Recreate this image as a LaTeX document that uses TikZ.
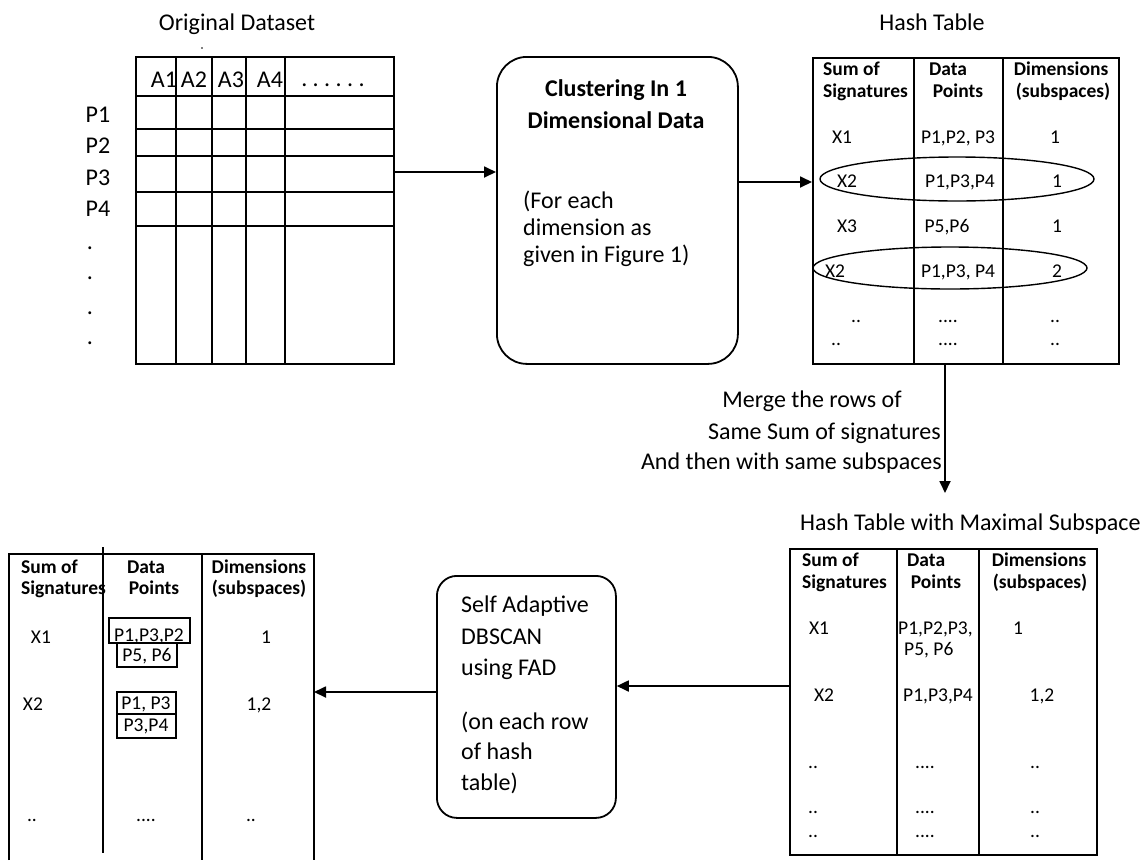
\documentclass[tikz,border=0pt]{standalone}
\usepackage{fontspec}
\setmainfont{Carlito}
\usetikzlibrary{arrows.meta}
\begin{document}
\begin{tikzpicture}[x=1pt,y=-1pt,
  tbl/.style={draw, line width=1.8pt, inner sep=0pt, anchor=north west},
  rule/.style={line width=1.8pt},
  fineline/.style={line width=1.4pt},
  big/.style={font=\fontsize{24}{27}\selectfont, inner sep=0pt, anchor=base},
  bigb/.style={font=\bfseries\fontsize{24}{27}\selectfont, inner sep=0pt, anchor=base},
  cell/.style={font=\fontsize{19.5}{22}\selectfont, inner sep=0pt, anchor=base},
  head/.style={font=\bfseries\fontsize{19.5}{22}\selectfont, inner sep=0pt, anchor=base},
  flow/.style={line width=1.8pt, -{Triangle[length=12pt,width=11pt]}},
]
\useasboundingbox (0,0) rectangle (1146,860);

% ---------- original dataset ----------
\node[big] (dstitle) at (237,30) {Original Dataset};
\fill (202,48) circle (0.9pt);
\node[tbl, minimum width=258pt, minimum height=307pt] (ds) at (135,56) {};
\foreach \x in {176,212,246,285} \draw[rule] (\x,56) -- (\x,363);
\foreach \y in {96,129,156,192,226} \draw[rule] (135,\y) -- (393,\y);
\node[big] (a1) at (164,87) {A1};
\node[big] (a2) at (194,87) {A2};
\node[big] (a3) at (231,87) {A3};
\node[big] (a4) at (270,87) {A4};
\node[big] (adots) at (333,86) {.\ .\ .\ .\ .\ .};
\node[big] (p1) at (98,122) {P1};
\node[big] (p2) at (98,153) {P2};
\node[big] (p3) at (98,185) {P3};
\node[big] (p4) at (98,216) {P4};
\node[big] (pd1) at (90,249) {.};
\node[big] (pd2) at (90,279) {.};
\node[big] (pd3) at (90,314) {.};
\node[big] (pd4) at (90,344) {.};

% ---------- clustering step ----------
\node[tbl, rounded corners=30pt, minimum width=241pt, minimum height=307pt] (clu) at (496,56) {};
\node[bigb] (c1) at (616,96) {Clustering In 1};
\node[bigb] (c2) at (616,128) {Dimensional Data};
\node[big, anchor=base west] (c3) at (523,208) {(For each};
\node[big, anchor=base west] (c4) at (523,235) {dimension as};
\node[big, anchor=base west] (c5) at (523,262) {given in Figure 1)};

% ---------- hash table ----------
\node[big] (httitle) at (932,30) {Hash Table};
\node[tbl, minimum width=306pt, minimum height=306pt] (ht) at (812,57) {};
\foreach \x in {914,1003} \draw[rule] (\x,57) -- (\x,363);
\node[head, anchor=base west] (h1) at (823,75) {Sum of};
\node[head, anchor=base west] (h2) at (823,97) {Signatures};
\node[head] (h3) at (948,75) {Data};
\node[head] (h4) at (958,97) {Points};
\node[head] (h5) at (1061,75) {Dimensions};
\node[head] (h6) at (1063,97) {(subspaces)};
\node[cell] (r1a) at (842,143) {X1};
\node[cell] (r1b) at (958,143) {P1,P2, P3};
\node[cell] (r1c) at (1055,143) {1};
\node[cell] (r2a) at (847,187) {X2};
\node[cell] (r2b) at (960,187) {P1,P3,P4};
\node[cell] (r2c) at (1057,187) {1};
\node[cell] (r3a) at (847,232) {X3};
\node[cell] (r3b) at (947,232) {P5,P6};
\node[cell] (r3c) at (1057,232) {1};
\node[cell] (r4a) at (835,277) {X2};
\node[cell] (r4b) at (958,277) {P1,P3, P4};
\node[cell] (r4c) at (1057,277) {2};
\node[cell] (r5a) at (856,322) {..};
\node[cell] (r5b) at (948,322) {....};
\node[cell] (r5c) at (1055,322) {..};
\node[cell] (r6a) at (836,345) {..};
\node[cell] (r6b) at (948,345) {....};
\node[cell] (r6c) at (1055,345) {..};
\draw[fineline] (957,179) ellipse [x radius=137pt, y radius=22pt];
\draw[fineline] (950,268) ellipse [x radius=137pt, y radius=21pt];

% ---------- merge step ----------
\coordinate (mergeend) at (945,493);
\node[big] (m1) at (812,407) {Merge the rows of};
\node[big, anchor=base east] (m2) at (941,439) {Same Sum of signatures};
\node[big, anchor=base east] (m3) at (942,469) {And then with same subspaces};

% ---------- hash table with maximal subspace ----------
\node[big, anchor=base west] (mttitle) at (800,530) {Hash Table with Maximal Subspace};
\node[tbl, minimum width=307pt, minimum height=306pt] (mt) at (789,548) {};
\foreach \x in {897,979} \draw[rule] (\x,548) -- (\x,854);
\node[head, anchor=base west] (g1) at (802,566) {Sum of};
\node[head, anchor=base west] (g2) at (802,588) {Signatures};
\node[head, anchor=base west] (g3) at (907,566) {Data};
\node[head] (g4) at (936,588) {Points};
\node[head] (g5) at (1039,566) {Dimensions};
\node[head] (g6) at (1040,588) {(subspaces)};
\node[cell] (s1a) at (819,634) {X1};
\node[cell, anchor=base west] (s1b) at (898,634) {P1,P2,P3,};
\node[cell, anchor=base west] (s1d) at (904,655) {P5, P6};
\node[cell] (s1c) at (1018,634) {1};
\node[cell] (s2a) at (824,701) {X2};
\node[cell] (s2b) at (938,701) {P1,P3,P4};
\node[cell] (s2c) at (1042,701) {1,2};
\node[cell] (s3a) at (813,768) {..};
\node[cell] (s3b) at (925,768) {....};
\node[cell] (s3c) at (1035,768) {..};
\node[cell] (s4a) at (813,813) {..};
\node[cell] (s4b) at (925,813) {....};
\node[cell] (s4c) at (1035,813) {..};
\node[cell] (s5a) at (813,837) {..};
\node[cell] (s5b) at (925,837) {....};
\node[cell] (s5c) at (1035,837) {..};

% ---------- DBSCAN step ----------
\node[tbl, rounded corners=20pt, minimum width=179pt, minimum height=242pt] (db) at (436,575) {};
\node[big, anchor=base west] (d1) at (461,612) {Self Adaptive};
\node[big, anchor=base west] (d2) at (461,644) {DBSCAN};
\node[big, anchor=base west] (d3) at (461,675) {using FAD};
\node[big, anchor=base west] (d4) at (461,729) {(on each row};
\node[big, anchor=base west] (d5) at (461,759) {of hash};
\node[big, anchor=base west] (d6) at (461,790) {table)};

% ---------- resulting clusters ----------
\draw[rule] (9,860) -- (9,554) -- (314,554) -- (314,860);
\draw[rule] (103,547) -- (103,853);
\draw[rule] (202,554) -- (202,860);
\coordinate (rt) at (314,692);
\node[head, anchor=base west] (k1) at (21,573) {Sum of};
\node[head, anchor=base west] (k2) at (21,594) {Signatures};
\node[head] (k3) at (146,573) {Data};
\node[head] (k4) at (154,594) {Points};
\node[head] (k5) at (259,573) {Dimensions};
\node[head] (k6) at (259,594) {(subspaces)};
\node[cell] (t1a) at (41,643) {X1};
\node[draw, fineline, inner sep=0pt, minimum width=81pt, minimum height=25pt] (bx1) at (149.5,630.5) {};
\node[draw, fineline, inner sep=0pt, minimum width=60pt, minimum height=24pt] (bx2) at (147,655) {};
\node[cell] (t1b) at (149,641) {P1,P3,P2};
\node[cell] (t1d) at (147,661) {P5, P6};
\node[cell] (t1c) at (266,643) {1};
\node[cell] (t2a) at (33,710) {X2};
\node[draw, fineline, inner sep=0pt, minimum width=59pt, minimum height=22pt] (bx3) at (146.5,703) {};
\node[draw, fineline, inner sep=0pt, minimum width=59pt, minimum height=24pt] (bx4) at (146.5,726) {};
\node[cell] (t2b) at (146,709) {P1, P3};
\node[cell] (t2d) at (146,731) {P3,P4};
\node[cell] (t2c) at (259,710) {1,2};
\node[cell] (t3a) at (32,821) {..};
\node[cell] (t3b) at (146,821) {....};
\node[cell] (t3c) at (251,821) {..};

% ---------- connectors ----------
\draw[flow] (ds.east |- 0,172) -- (clu.west |- 0,172);
\draw[flow] (clu.east |- 0,182) -- (ht.west |- 0,182);
\draw[flow] (ht.south -| mergeend) -- (mergeend);
\draw[flow] (mt.west |- 0,686) -- (db.east |- 0,686);
\draw[flow] (db.west |- 0,692) -- (rt);
\end{tikzpicture}
\end{document}
